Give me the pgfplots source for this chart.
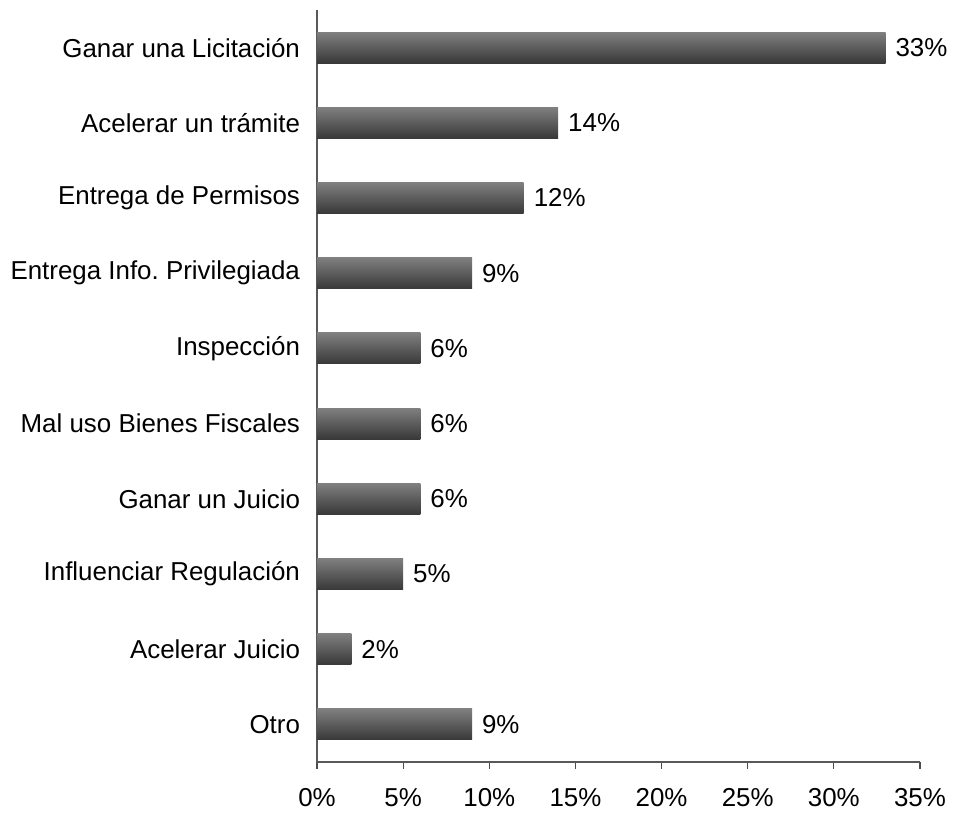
\documentclass[border=0pt]{standalone}
\usepackage{fontspec}
\setmainfont{Liberation Sans}
\usepackage{pgfplots}
\pgfplotsset{compat=1.18}
\pgfplotsset{onebar/.style={xbar, bar width=15.5bp, bar shift=0pt, draw=none, top color=black!50, bottom color=black!78}}
\begin{document}
\fontsize{13}{15.6}\selectfont
\begin{tikzpicture}
\useasboundingbox (-158.5bp,-29.5bp) rectangle (318bp,381bp);
\begin{axis}[
  at={(0,0)}, anchor=south west,
  scale only axis,
  width=301.5bp, height=376bp,
  xmin=0, xmax=35, ymin=0.5, ymax=10.5,
  axis lines*=left,
  axis line style={black!65, line width=0.8bp},
  xtick={0,5,...,35},
  xticklabel={\pgfmathprintnumber{\tick}\%},
  ytick={1,...,10},
  yticklabels={Otro,Acelerar Juicio,Influenciar Regulación,Ganar un Juicio,Mal uso Bienes Fiscales,Inspección,Entrega Info.\ Privilegiada,Entrega de Permisos,Acelerar un trámite,Ganar una Licitación},
  minor ytick={0.5,1.5,...,10.5},
  tick align=outside,
  major tick length=3.5bp,
  minor tick length=3.5bp,
  ytick style={draw=none},
  minor tick style={draw=black, line width=0.6bp},
  xtick style={black!70, line width=0.6bp},
  /pgf/number format/assume math mode=true,
  tick label style={font=\fontsize{13}{15.6}\selectfont},
  xticklabel style={yshift=-5bp},
  yticklabel style={xshift=-0.5bp},
  nodes near coords={\pgfmathprintnumber{\pgfplotspointmeta}\%},
  point meta=x,
  every node near coord/.append style={font=\fontsize{13}{15.6}\selectfont, xshift=0.5bp},
  clip=false,
]
\addplot[onebar] coordinates {(33,10)};
\addplot[onebar] coordinates {(14,9)};
\addplot[onebar] coordinates {(12,8)};
\addplot[onebar] coordinates {(9,7)};
\addplot[onebar] coordinates {(6,6)};
\addplot[onebar] coordinates {(6,5)};
\addplot[onebar] coordinates {(6,4)};
\addplot[onebar] coordinates {(5,3)};
\addplot[onebar] coordinates {(2,2)};
\addplot[onebar] coordinates {(9,1)};
\end{axis}
\end{tikzpicture}
\end{document}
